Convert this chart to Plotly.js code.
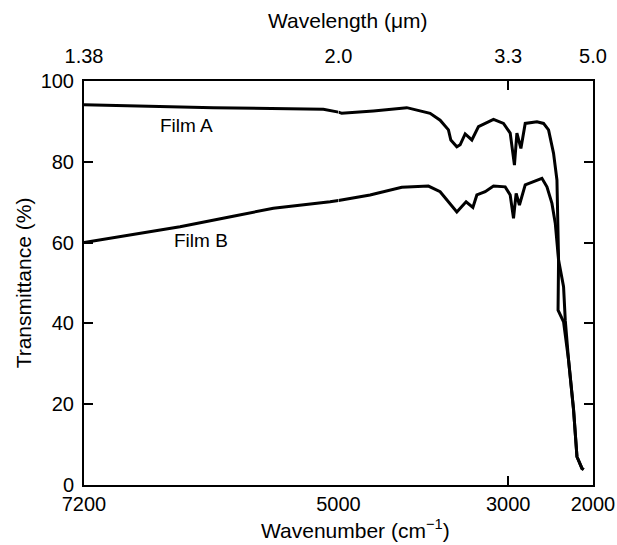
<!DOCTYPE html>
<html>
<head>
<meta charset="utf-8">
<script src="https://cdn.plot.ly/plotly-3.0.1.min.js"></script>
<style>html,body{margin:0;padding:0;background:#fff}#chart{width:617px;height:545px}</style>
</head>
<body>
<div id="chart"></div>
<script>
// Wavenumber (cm^-1) and transmittance (%)
const filmA_wn = [7200, 6600, 6082, 5131, 5000, 4962, 4589, 4195, 3920, 3802, 3704, 3676, 3605, 3566, 3507, 3428, 3350, 3173, 3055, 2976, 2926, 2897, 2850, 2799, 2661, 2583, 2524, 2465, 2425, 2406, 2412, 2347, 2288, 2229, 2189, 2130, 2110];
const filmA_T  = [94.1, 93.7, 93.4, 93.0, 92.3, 92.0, 92.6, 93.4, 92.0, 90.3, 87.9, 85.4, 83.7, 84.2, 86.9, 85.4, 88.7, 90.5, 89.5, 87.1, 79.2, 87.1, 83.3, 89.5, 89.9, 89.5, 87.9, 82.1, 75.5, 55.7, 43.3, 40.4, 30.9, 18.6, 7.0, 4.1, 3.8];

const filmB_wn = [7200, 6800, 6370, 5900, 5563, 5073, 5000, 4628, 4254, 3940, 3802, 3684, 3605, 3496, 3416, 3369, 3271, 3173, 3035, 2976, 2937, 2906, 2867, 2799, 2602, 2543, 2484, 2445, 2406, 2347, 2327, 2288, 2229, 2189, 2130, 2110];
const filmB_T  = [60.0, 61.9, 63.9, 66.6, 68.5, 70.1, 70.4, 71.8, 73.7, 74.0, 72.6, 69.7, 67.6, 70.1, 68.7, 71.8, 72.6, 74.0, 73.8, 71.8, 66.0, 72.2, 69.3, 74.3, 75.9, 73.8, 69.7, 64.8, 55.7, 49.1, 40.8, 30.9, 18.6, 7.0, 4.1, 3.8];

const seriesNames = ['Film A', 'Film B'];

// Axis ticks (the wavenumber scale changes at 5000 cm^-1)
const leftRange = [7200, 5000];
const rightRange = [5000, 2000];
const bottomTicksLeft = [7200];
const bottomTicksRight = [5000, 3000, 2000];
const topTickTextLeft = ['1.38'];
const topTickTextRight = ['2.0', '3.3', '5.0'];
const yTicks = [0, 20, 40, 60, 80, 100];

const FONT = 'Liberation Sans, Arial, Helvetica, sans-serif';
const FS = 20;
const TFS = 21;

function split(wn, T, lo, hi) {
  const x = [], y = [];
  for (let i = 0; i < wn.length; i++) {
    if (wn[i] >= lo && wn[i] <= hi) { x.push(wn[i]); y.push(T[i]); }
  }
  return {x, y};
}

const line = {color: '#000', width: 3};
const traces = [];
[[filmA_wn, filmA_T], [filmB_wn, filmB_T]].forEach(([wn, T], k) => {
  const L = split(wn, T, 5000, 7200);
  const R = split(wn, T, 2000, 5000);
  traces.push({x: L.x, y: L.y, xaxis: 'x', yaxis: 'y', mode: 'lines', line, name: seriesNames[k], showlegend: false, hoverinfo: 'skip'});
  traces.push({x: R.x, y: R.y, xaxis: 'x2', yaxis: 'y', mode: 'lines', line, name: seriesNames[k], showlegend: false, hoverinfo: 'skip'});
});
// empty traces so the top and right axes are drawn
traces.push({x: [], y: [], xaxis: 'x3', yaxis: 'y', showlegend: false});
traces.push({x: [], y: [], xaxis: 'x4', yaxis: 'y', showlegend: false});
traces.push({x: [], y: [], xaxis: 'x2', yaxis: 'y2', showlegend: false});

const baseAx = {
  showgrid: false, zeroline: false, showline: true, linecolor: '#000', linewidth: 2,
  ticks: 'inside', ticklen: 9, tickwidth: 1.8, tickcolor: '#000',
  tickfont: {family: FONT, size: FS, color: '#000'}, fixedrange: true
};

const layout = {
  width: 617, height: 545,
  margin: {l: 84, r: 24, t: 81, b: 60},
  paper_bgcolor: '#fff', plot_bgcolor: 'rgba(0,0,0,0)',
  showlegend: false,
  xaxis: Object.assign({}, baseAx, {domain: [0, 0.5], range: leftRange, anchor: 'y',
    tickmode: 'array', tickvals: bottomTicksLeft, ticktext: bottomTicksLeft.map(String), ticklabelstandoff: 0}),
  xaxis2: Object.assign({}, baseAx, {domain: [0.5, 1], range: rightRange, anchor: 'y',
    tickmode: 'array', tickvals: bottomTicksRight, ticktext: bottomTicksRight.map(String), ticklabelstandoff: 0}),
  xaxis3: Object.assign({}, baseAx, {domain: [0, 0.5], range: leftRange, anchor: 'y', overlaying: 'x', side: 'top',
    tickmode: 'array', tickvals: bottomTicksLeft, ticktext: topTickTextLeft, ticklabelstandoff: 8}),
  xaxis4: Object.assign({}, baseAx, {domain: [0.5, 1], range: rightRange, anchor: 'y', overlaying: 'x2', side: 'top',
    tickmode: 'array', tickvals: bottomTicksRight, ticktext: topTickTextRight, ticklabelstandoff: 8}),
  yaxis: Object.assign({}, baseAx, {range: [0, 100], anchor: 'x', side: 'left',
    tickmode: 'array', tickvals: yTicks, ticklabelstandoff: 4,
    title: {text: 'Transmittance (%)', font: {family: FONT, size: TFS, color: '#000'}, standoff: 3}}),
  yaxis2: Object.assign({}, baseAx, {range: [0, 100], anchor: 'x2', side: 'right', overlaying: 'y',
    tickmode: 'array', tickvals: yTicks, showticklabels: false}),
  annotations: [
    {text: 'Wavelength (μm)', xref: 'paper', yref: 'paper', x: 0.519, y: 1, yshift: 61, xanchor: 'center', yanchor: 'middle',
     showarrow: false, font: {family: FONT, size: TFS, color: '#000'}},
    {text: 'Wavenumber (cm<sup>−1</sup>)', xref: 'paper', yref: 'paper', x: 0.534, y: 0, yshift: -44, xanchor: 'center', yanchor: 'middle',
     showarrow: false, font: {family: FONT, size: TFS, color: '#000'}},
    {text: seriesNames[0], xref: 'x', yref: 'y', x: 6314, y: 89.1, showarrow: false,
     font: {family: FONT, size: 19, color: '#000'}},
    {text: seriesNames[1], xref: 'x', yref: 'y', x: 6191, y: 60.4, showarrow: false,
     font: {family: FONT, size: 19, color: '#000'}}
  ]
};

Plotly.newPlot('chart', traces, layout, {displayModeBar: false, staticPlot: true});
</script>
</body>
</html>
